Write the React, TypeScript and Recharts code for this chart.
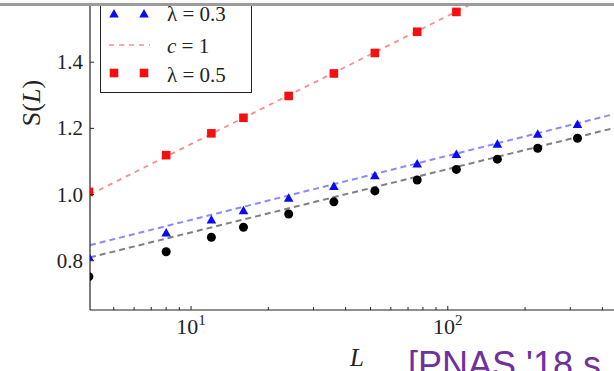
import React from "react";
import { ComposedChart, Line, Scatter, XAxis, YAxis } from "recharts";

// system sizes L and entropies S(L)
const sizes = [4, 8, 12, 16, 24, 36, 52, 76, 108, 156, 224, 320];
const entropyBlack = [0.752, 0.827, 0.871, 0.901, 0.941, 0.978, 1.011, 1.044, 1.076, 1.107, 1.14, 1.17];
const entropyBlue = [0.811, 0.884, 0.923, 0.951, 0.989, 1.024, 1.057, 1.092, 1.121, 1.152, 1.182, 1.212];
const entropyRed = [1.008, 1.119, 1.185, 1.232, 1.298, 1.366, 1.428, 1.492, 1.552];

// dashed fits, value at each end of the visible L range
const fitRange = [4.04, 444];
const fitBlack = [0.81, 1.201];
const fitBlue = [0.847, 1.243];
const fitRed = [1.0, 1.791];

const xTicks = [5, 6, 7, 8, 9, 10, 20, 30, 40, 50, 60, 70, 80, 90, 100, 200, 300, 400];
const xMajor: Record<number, string> = { 10: "1", 100: "2" };
const yTicks = [0.8, 1.0, 1.2, 1.4];

const legendRows = ["λ = 0.3", "c = 1", "λ = 0.5"];

const toPoints = (ys: number[]) => ys.map((S, i) => ({ L: sizes[i], S }));
const toFit = (ys: number[]) => ys.map((S, i) => ({ L: fitRange[i], S }));

const SERIF = "'Liberation Serif', 'DejaVu Serif', serif";
const AXIS = "#222";

function XTick(props: any) {
  const { x, y, payload } = props;
  const exp = xMajor[payload.value];
  return (
    <g>
      <line x1={x} x2={x} y1={y} y2={y - (exp ? 4 : 3)} stroke={AXIS} strokeWidth={1} />
      {exp && (
        <text x={x} y={y + 24} textAnchor="middle" fontFamily={SERIF} fontSize={22} fill="#222">
          10
          <tspan dy={-9} fontSize={15}>
            {exp}
          </tspan>
        </text>
      )}
    </g>
  );
}

function YTick(props: any) {
  const { x, y, payload } = props;
  return (
    <g>
      <line x1={x} x2={x + 4} y1={y} y2={y} stroke={AXIS} strokeWidth={1} />
      <text x={x - 7} y={y + 7} textAnchor="end" fontFamily={SERIF} fontSize={21} fill="#222">
        {payload.value.toFixed(1)}
      </text>
    </g>
  );
}

const Circle = ({ cx, cy }: any) => <circle cx={cx} cy={cy} r={4.5} fill="#000" />;
const Triangle = ({ cx, cy }: any) => (
  <path d={`M${cx},${cy - 5}L${cx + 4.8},${cy + 3.5}L${cx - 4.8},${cy + 3.5}Z`} fill="#0a0af5" />
);
const Square = ({ cx, cy }: any) => <rect x={cx - 4.3} y={cy - 4.3} width={8.6} height={8.6} fill="#f51010" />;

function Overlay() {
  return (
    <svg width={614} height={371} style={{ position: "absolute", left: 0, top: 0, pointerEvents: "none" }}>
      {/* legend box, top edge runs off the crop */}
      <rect x={100.5} y={-40} width={151} height={132.5} fill="#fff" stroke={AXIS} strokeWidth={1} />
      <path d="M114,9L118.8,17.5L109.2,17.5Z M144,9L148.8,17.5L139.2,17.5Z" fill="#0a0af5" />
      <text x={167} y={20.5} fontFamily={SERIF} fontSize={21} fill="#222">
        {legendRows[0]}
      </text>
      <line x1={109} x2={150} y1={45} y2={45} stroke="#ff8c8c" strokeWidth={1.6} strokeDasharray="5 5" />
      <text x={167} y={52.5} fontFamily={SERIF} fontSize={21} fill="#222">
        <tspan fontStyle="italic">c</tspan>
        {legendRows[1].slice(1)}
      </text>
      <rect x={109.7} y={68.7} width={8.6} height={8.6} fill="#f51010" />
      <rect x={139.7} y={68.7} width={8.6} height={8.6} fill="#f51010" />
      <text x={167} y={81.5} fontFamily={SERIF} fontSize={21} fill="#222">
        {legendRows[2]}
      </text>

      <text transform="translate(40,103) rotate(-90)" textAnchor="middle" fontFamily={SERIF} fontSize={26} fill="#222">
        S(<tspan fontStyle="italic">L</tspan>)
      </text>
      <text x={357} y={366} textAnchor="middle" fontFamily={SERIF} fontStyle="italic" fontSize={25} fill="#222">
        L
      </text>
      <text x={408} y={377} fontFamily="'Liberation Sans', Arial, sans-serif" fontSize={36} fill="#7030a0">
        [PNAS '18 s
      </text>

      <rect x={0} y={0} width={614} height={3} fill="#fafafa" />
      <rect x={0} y={3} width={614} height={3} fill="#9c9c9c" />
    </svg>
  );
}

export default function App() {
  return (
    <div
      style={{
        position: "absolute",
        left: 0,
        top: 0,
        width: 614,
        height: 371,
        overflow: "hidden",
        background: "#fff",
      }}
    >
      <ComposedChart width={614} height={371} margin={{ top: 0, right: 0, left: 0, bottom: 0 }}>
        <XAxis
          dataKey="L"
          type="number"
          scale="log"
          domain={fitRange}
          allowDataOverflow
          ticks={xTicks}
          interval={0}
          height={61}
          tickSize={0}
          tickMargin={0}
          tickLine={false}
          tick={XTick}
          axisLine={{ stroke: AXIS, strokeWidth: 1.2 }}
        />
        <YAxis
          dataKey="S"
          type="number"
          domain={[0.651, 1.588]}
          allowDataOverflow
          ticks={yTicks}
          interval={0}
          width={90}
          tickSize={0}
          tickMargin={0}
          tickLine={false}
          tick={YTick}
          axisLine={{ stroke: AXIS, strokeWidth: 1.2 }}
        />
        <Line data={toFit(fitBlack)} dataKey="S" stroke="#808080" strokeWidth={2} strokeDasharray="6 4" dot={false} isAnimationActive={false} />
        <Line data={toFit(fitBlue)} dataKey="S" stroke="#8a8aff" strokeWidth={2} strokeDasharray="6 4" dot={false} isAnimationActive={false} />
        <Line data={toFit(fitRed)} dataKey="S" stroke="#ff8c8c" strokeWidth={1.8} strokeDasharray="5 5" dot={false} isAnimationActive={false} />
        <Scatter data={toPoints(entropyBlack)} shape={Circle} isAnimationActive={false} />
        <Scatter data={toPoints(entropyBlue)} shape={Triangle} isAnimationActive={false} />
        <Scatter data={toPoints(entropyRed)} shape={Square} isAnimationActive={false} />
      </ComposedChart>
      <Overlay />
    </div>
  );
}
